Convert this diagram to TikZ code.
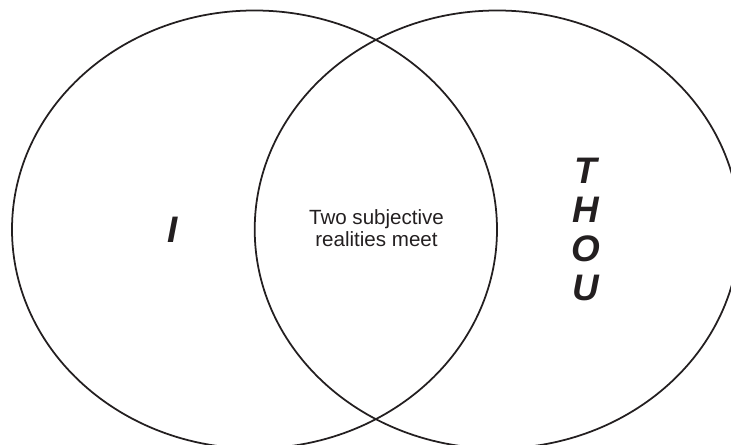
\documentclass[tikz,border=0pt]{standalone}
\usepackage{fontspec}
\newfontfamily\arial{Liberation Sans}
\usepackage{tikz}
\usetikzlibrary{shapes.geometric}
\definecolor{inchiostro}{HTML}{231F20}

\begin{document}
\begin{tikzpicture}[
          % Stile delle due ellissi
          ellisse/.style={
              draw=inchiostro,
              ellipse,
              minimum width=9.7cm,
              minimum height=8.76cm,
              inner sep=0pt,
              line width=1pt
          },
          % Stile per le lettere grandi
          lettera/.style={
              text=inchiostro,
              align=center,
              inner sep=0pt,
              font=\arial\bfseries\itshape\fontsize{21}{22.1}\selectfont
          },
          % Stile del testo centrale
          didascalia/.style={
              text=inchiostro,
              align=center,
              inner sep=0pt,
              font=\arial\fontsize{11.7}{12.6}\selectfont
          }
      ]

          \useasboundingbox (0,0) rectangle (14.62,8.9);
          \clip (0,0) rectangle (14.62,8.9);

          % 1. Ellisse di sinistra (I)
          \node [ellisse] (io) at (5.09,4.31) {};

          % 2. Ellisse di destra (THOU)
          \node [ellisse] (tu) at (9.944,4.31) {};

          % 3. Etichette
          \node [lettera] (etichettaIo) at (3.46,4.30) {I};
          \node [lettera] (etichettaTu) at (11.72,4.31) {T\\H\\O\\U};

          % 4. Testo nell'intersezione
          \node [didascalia] (incontro) at (7.53,4.34) {Two subjective\\realities meet};

      \end{tikzpicture}
\end{document}
